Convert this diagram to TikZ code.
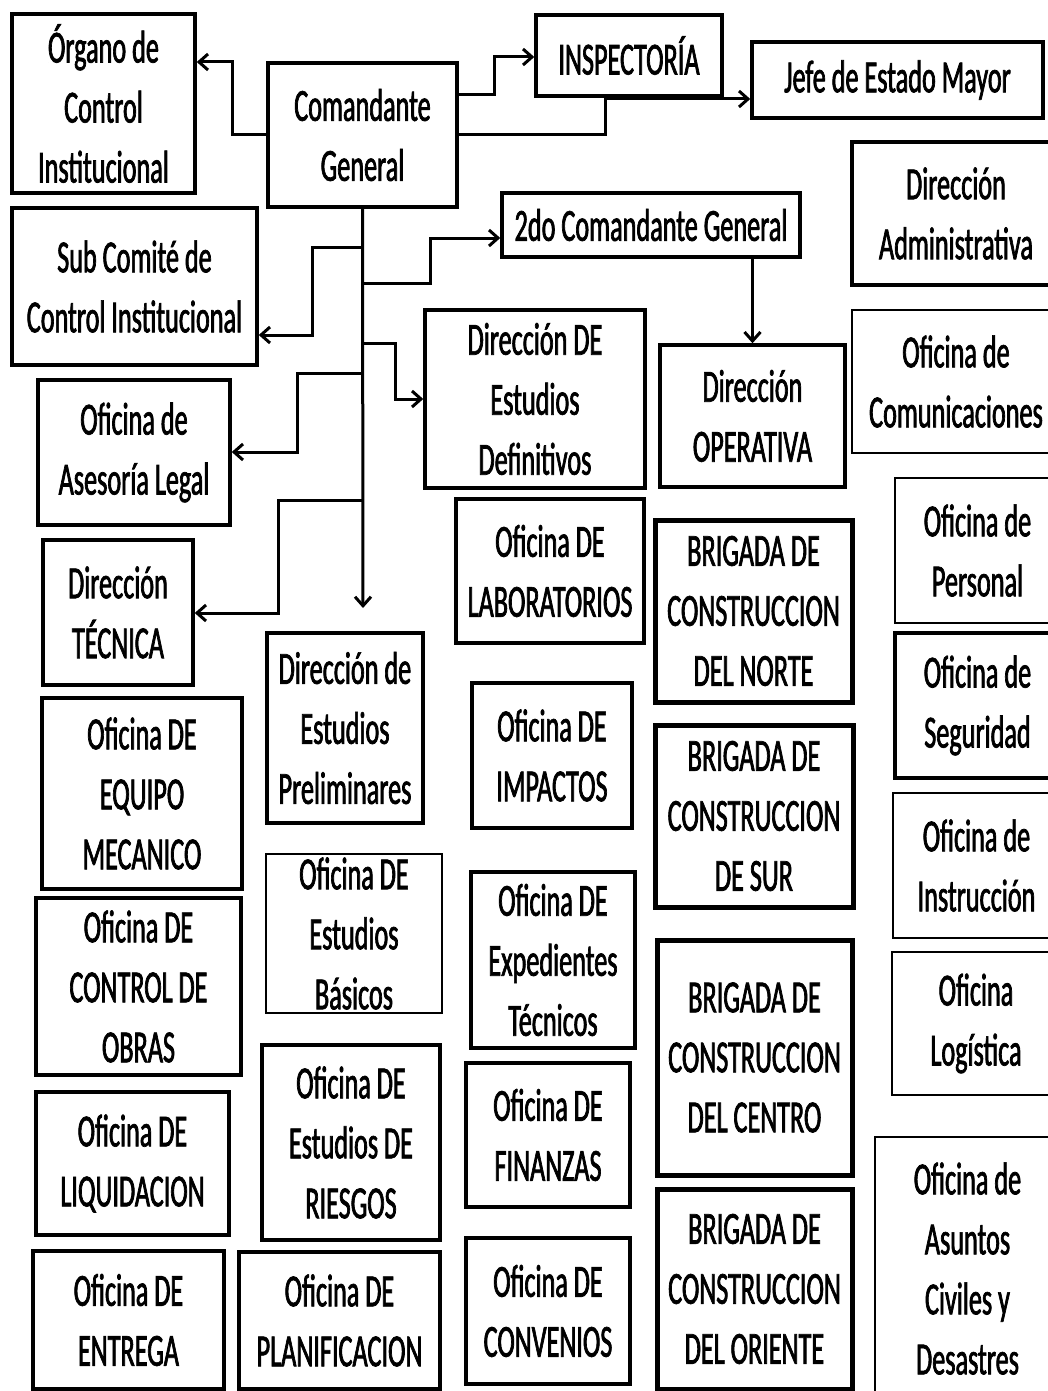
\documentclass[tikz,border=0pt]{standalone}
\usepackage{fontspec}
\setmainfont{Carlito}[FakeStretch=0.57,FakeBold=1.5]
\usetikzlibrary{arrows.meta}
\newcommand{\orgbox}[7]{\node[#1,minimum width={(#5-#3)*1pt},minimum height={(#6-#4)*1pt}] (#2) at ({(#3+#5)/2},{(#4+#6)/2}) {#7};}
\begin{document}
\begin{tikzpicture}[x=1pt,y=-1pt,
  box/.style={draw=black,rectangle,inner sep=0pt,align=center,line width=3.5pt,
    font=\fontsize{46}{60}\selectfont},
  thinbox/.style={box,line width=2.2pt},
  heavybox/.style={box,line width=5pt},
  conn/.style={draw=black,line width=3pt},
  arr/.style={conn,-{Straight Barb[length=9pt,width=16pt]}}]
\useasboundingbox (0,0) rectangle (1048,1391);
\fill[white] (0,0) rectangle (1048,1391);
\clip (0,0) rectangle (1048,1391);
% top row
\orgbox{box}{org}{12}{14}{195}{193}{Órgano de\\Control\\Institucional}
\orgbox{box}{com}{268}{63}{457}{207}{Comandante\\General}
\orgbox{box}{insp}{536}{15}{722}{96}{INSPECTORÍA}
\orgbox{box}{jefe}{752}{42}{1043}{118}{Jefe de Estado Mayor}
\orgbox{box}{subc}{12}{208}{257}{365}{Sub Comité de\\Control Institucional}
\orgbox{box}{seg}{502}{193}{800}{257}{2do Comandante General}
\orgbox{box}{def}{425}{310}{645}{488}{Dirección DE\\Estudios\\Definitivos}
\orgbox{box}{oper}{660}{345}{845}{487}{Dirección\\OPERATIVA}
\orgbox{box}{adm}{852}{142}{1060}{285}{Dirección\\Administrativa}
\orgbox{thinbox}{comu}{852}{310}{1060}{453}{Oficina de\\Comunicaciones}
\orgbox{box}{ases}{38}{380}{230}{525}{Oficina de\\Asesoría Legal}
\orgbox{box}{tec}{43}{540}{193}{685}{Dirección\\TÉCNICA}
% middle
\orgbox{box}{lab}{456}{499}{644}{643}{Oficina DE\\LABORATORIOS}
\orgbox{heavybox}{norte}{655}{520}{852}{702}{BRIGADA DE\\CONSTRUCCION\\DEL NORTE}
\orgbox{thinbox}{pers}{895}{478}{1060}{623}{Oficina de\\Personal}
\orgbox{box}{prel}{267}{633}{423}{823}{Dirección de\\Estudios\\Preliminares}
\orgbox{box}{imp}{472}{683}{632}{828}{Oficina DE\\IMPACTOS}
\orgbox{box}{equipo}{42}{698}{242}{889}{Oficina DE\\EQUIPO\\MECANICO}
\orgbox{heavybox}{sur}{655}{725}{853}{907}{BRIGADA DE\\CONSTRUCCION\\DE SUR}
\orgbox{box}{segur}{895}{633}{1060}{778}{Oficina de\\Seguridad}
\orgbox{thinbox}{basicos}{266}{854}{442}{1013}{Oficina DE\\Estudios\\Básicos}
\orgbox{box}{exped}{471}{872}{635}{1048}{Oficina DE\\Expedientes\\Técnicos}
\orgbox{thinbox}{instr}{893}{793}{1060}{938}{Oficina de\\Instrucción}
\orgbox{box}{obras}{36}{898}{241}{1075}{Oficina DE\\CONTROL DE\\OBRAS}
\orgbox{heavybox}{centro}{657}{940}{852}{1175}{BRIGADA DE\\CONSTRUCCION\\DEL CENTRO}
\orgbox{thinbox}{logis}{892}{952}{1060}{1095}{Oficina\\Logística}
% bottom
\orgbox{box}{riesgos}{262}{1045}{440}{1240}{Oficina DE\\Estudios DE\\RIESGOS}
\orgbox{box}{finan}{466}{1063}{630}{1207}{Oficina DE\\FINANZAS}
\orgbox{box}{liquid}{36}{1092}{229}{1235}{Oficina DE\\LIQUIDACION}
\orgbox{thinbox}{asuntos}{875}{1137}{1060}{1400}{Oficina de\\Asuntos\\Civiles y\\Desastres}
\orgbox{heavybox}{oriente}{657}{1189}{852}{1389}{BRIGADA DE\\CONSTRUCCION\\DEL ORIENTE}
\orgbox{box}{conven}{466}{1238}{630}{1384}{Oficina DE\\CONVENIOS}
\orgbox{box}{entrega}{33}{1251}{224}{1389}{Oficina DE\\ENTREGA}
\orgbox{box}{plan}{239}{1252}{440}{1389}{Oficina DE\\PLANIFICACION}
% connectors
\coordinate (o1) at (232,62);
\draw[arr] (com.west) -| (o1) -- (o1 -| org.east);
\coordinate (i1) at (494,57);
\draw[arr] ([yshift=40pt]com.east) -| (i1) -- (i1 -| insp.west);
\coordinate (j1) at (605,99);
\draw[arr] (com.east) -| (j1) -- (j1 -| jefe.west);
\coordinate (t1) at (363,608);
\draw[arr] (com.south) -- (t1);
\coordinate (b1) at (363,247);
\coordinate (b2) at (363,283);
\coordinate (b3) at (363,343);
\coordinate (b4) at (363,373);
\coordinate (b5) at (363,500);
\coordinate (k1) at (312,335);
\coordinate (k2) at (430,238);
\coordinate (k3) at (395,399);
\coordinate (k4) at (297,452);
\coordinate (k5) at (278,613);
\draw[arr] (b1) -| (k1) -- (k1 -| subc.east);
\draw[arr] (b2) -| (k2) -- (k2 -| seg.west);
\draw[arr] (b3) -| (k3) -- (k3 -| def.west);
\draw[arr] (b4) -| (k4) -- (k4 -| ases.east);
\draw[arr] (b5) -| (k5) -- (k5 -| tec.east);
\draw[arr] (seg.south -| oper.north) -- (oper.north);
\end{tikzpicture}
\end{document}
